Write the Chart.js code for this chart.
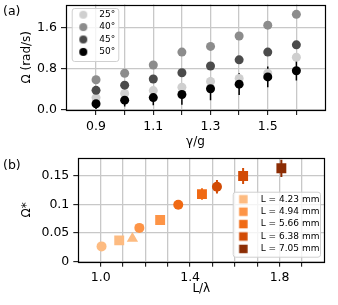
<!DOCTYPE html>
<html><head><meta charset="utf-8">
<script src="https://cdn.jsdelivr.net/npm/chart.js@4.4.0/dist/chart.umd.min.js"></script>
<style>
html,body{margin:0;padding:0;background:#fff;}
#wrap{position:relative;width:338px;height:305px;overflow:hidden;}
canvas{position:absolute;left:0;}
#c1{top:0;} #c2{top:151px;}
</style></head><body>
<div id="wrap"><canvas id="c1" width="338" height="151"></canvas><canvas id="c2" width="338" height="154"></canvas></div>
<script>
// ---------- Panel (a) data ----------
const gammaRatio = [0.9, 1.0, 1.1, 1.2, 1.3, 1.4, 1.5, 1.6];
const angleLabels = ['25°', '40°', '45°', '50°'];
const omega25 = [0.24, 0.32, 0.375, 0.44, 0.55, 0.61, 0.71, 1.02];
const omega40 = [0.585, 0.71, 0.87, 1.12, 1.23, 1.43, 1.64, 1.85];
const omega45 = [0.38, 0.48, 0.60, 0.72, 0.85, 0.97, 1.12, 1.26];
const omega50 = [0.12, 0.19, 0.24, 0.30, 0.41, 0.50, 0.64, 0.76];
const omega50Err = [0.10, 0.12, 0.15, 0.20, 0.22, 0.21, 0.20, 0.19];
const aXTicks = [0.9, 1.0, 1.1, 1.2, 1.3, 1.4, 1.5, 1.6];
const aXTickLabels = ['0.9', '', '1.1', '', '1.3', '', '1.5', ''];
const aYTicks = [0, 0.8, 1.6];
const aYTickLabels = ['0.0', '0.8', '1.6'];

// ---------- Panel (b) data ----------
const lengthLabels = ['L = 4.23 mm', 'L = 4.94 mm', 'L = 5.66 mm', 'L = 6.38 mm', 'L = 7.05 mm'];
const ratioL423 = [1.004, 1.083, 1.142];
const ratioL494 = [1.173, 1.266];
const ratioL566 = [1.347, 1.453];
const ratioL638 = [1.520, 1.637];
const ratioL705 = [1.808];
const omegaL423 = [0.0267, 0.0373, 0.0407];
const omegaL494 = [0.059, 0.0728];
const omegaL566 = [0.0995, 0.118];
const omegaL638 = [0.1307, 0.1495];
const omegaL705 = [0.163];
const errL566 = [0, 0.010];
const errL638 = [0.0117, 0.014];
const errL705 = [0.015];
const bXTicks = [1.0, 1.1, 1.2, 1.3, 1.4, 1.5, 1.6, 1.7, 1.8, 1.9];
const bXTickLabels = ['1.0', '', '', '', '1.4', '', '', '', '1.8', ''];
const bYTicks = [0, 0.05, 0.1, 0.15];
const bYTickLabels = ['0', '0.05', '0.1', '0.15'];

// ---------- styles ----------
const FONT = 'DejaVu Sans';
Chart.defaults.font.family = FONT;
Chart.defaults.color = '#000';
const grays = ['#cfcfcf', '#8c8c8c', '#4b4b4b', '#000000'];
const oranges = ['#fdbb81', '#fd9446', '#f06913', '#d24b05', '#8c2d04'];
const shapeSets = [['circle', 'rect', 'triangle'], ['circle', 'rect'], ['circle', 'rect'], ['circle', 'rect'], ['rect']];
const shapeRadius = { circle: 5, rect: 7, triangle: 6.5 };

function pts(xs, ys) { return xs.map((x, i) => ({ x: x, y: ys[i] })); }
function errSegments(xs, ys, es) {
  const out = [];
  xs.forEach((x, i) => {
    if (!es[i]) return;
    out.push({ x: x, y: ys[i] - es[i] }, { x: x, y: ys[i] + es[i] }, { x: x, y: null });
  });
  return out;
}
function markerImage(shape, color, size, shift) {
  const c = document.createElement('canvas');
  c.width = 40; c.height = 14;
  const g = c.getContext('2d');
  g.fillStyle = color;
  const cx = 20 + shift, cy = 7;
  if (shape === 'circle') { g.beginPath(); g.arc(cx, cy, size / 2, 0, Math.PI * 2); g.fill(); }
  else { g.fillRect(cx - size / 2, cy - size / 2, size, size); }
  return c;
}
function fixAxis(size, isX) {
  return function (s) {
    if (isX) s.height = size; else s.width = size;
    s.paddingTop = 0; s.paddingBottom = 0; s.paddingLeft = 0; s.paddingRight = 0;
  };
}
function setTicks(values) { return function (s) { s.ticks = values.map(v => ({ value: v })); }; }

const framePlugin = {
  id: 'frame',
  afterDatasetsDraw(chart) {
    const a = chart.chartArea, ctx = chart.ctx;
    ctx.save();
    ctx.strokeStyle = '#000'; ctx.lineWidth = 1.2;
    ctx.strokeRect(Math.round(a.left) + 0.5, Math.round(a.top) + 0.5,
      Math.round(a.right) - Math.round(a.left), Math.round(a.bottom) - Math.round(a.top));
    ctx.restore();
  }
};
const legendPlugin = {
  id: 'legendPlace',
  afterLayout(chart, args, o) {
    const lg = chart.legend; if (!lg) return;
    const w = lg.width, h = lg.height;
    lg.left = o.left; lg.top = o.top; lg.right = o.left + w; lg.bottom = o.top + h;
  },
  beforeDraw(chart) {
    const lg = chart.legend;
    if (lg && !lg.$patched) {
      const orig = lg.draw.bind(lg);
      lg.$orig = orig;
      lg.draw = function () { if (chart.$legendNow) orig(); };
      lg.$patched = true;
    }
  },
  afterDraw(chart, args, o) {
    const ctx = chart.ctx, b = o.box, lg = chart.legend;
    ctx.save();
    ctx.beginPath();
    if (ctx.roundRect) ctx.roundRect(b[0] + 0.5, b[1] + 0.5, b[2], b[3], 2.5); else ctx.rect(b[0] + 0.5, b[1] + 0.5, b[2], b[3]);
    ctx.fillStyle = 'rgba(255,255,255,0.8)'; ctx.fill();
    ctx.strokeStyle = '#d0d0d0'; ctx.lineWidth = 1; ctx.stroke();
    ctx.restore();
    chart.$legendNow = true;
    if (typeof lg._draw === 'function') { ctx.save(); lg._draw(); ctx.restore(); } else lg.$orig();
    chart.$legendNow = false;
  }
};

const gridStyle = { color: '#c8c8c8', lineWidth: 1.3, tickColor: '#000', tickLength: 5, tickWidth: 1 };
const tickFont = { size: 12.5 };
const titleFont = { size: 12 };

// ---------- Chart (a) ----------
const aLegendMarkers = grays.map(c => markerImage('circle', c, 8, -7));
const aSets = [omega25, omega40, omega45, omega50].map((ys, i) => ({
  label: angleLabels[i], data: pts(gammaRatio, ys), backgroundColor: grays[i],
  pointRadius: 4.5, pointHoverRadius: 4.5, borderWidth: 0, order: 4 - i
}));
aSets.push({
  label: '', isErr: true, data: errSegments(gammaRatio, omega50, omega50Err), showLine: true, spanGaps: false,
  borderColor: '#000', borderWidth: 1.5, pointRadius: 0, order: 10
});
new Chart(document.getElementById('c1'), {
  type: 'scatter',
  data: { datasets: aSets },
  options: {
    responsive: false, animation: false, events: [],
    layout: { padding: { left: 3, right: 13, top: 0, bottom: 0 } },
    plugins: {
      tooltip: { enabled: false },
      title: { display: true, text: '(a)', align: 'start', color: '#000', font: { size: 12.5, weight: 'normal' }, padding: { top: 3.8, bottom: -15.2 } },
      legend: {
        position: 'chartArea', align: 'start',
        labels: {
          usePointStyle: true, boxWidth: 9, boxHeight: 9, padding: 3.4, color: '#000', font: { size: 9 },
          filter: (item, data) => !data.datasets[item.datasetIndex].isErr,
          sort: (a, b) => a.datasetIndex - b.datasetIndex,
          generateLabels: (chart) => Chart.defaults.plugins.legend.labels.generateLabels(chart)
            .map(it => Object.assign(it, { pointStyle: aLegendMarkers[it.datasetIndex] || it.pointStyle }))
        }
      },
      legendPlace: { left: 82.4, top: 6.8, box: [71.7, 8, 46.6, 53] }
    },
    scales: {
      x: {
        type: 'linear', min: 0.795, max: 1.70,
        afterFit: fixAxis(41, true), afterBuildTicks: setTicks(aXTicks),
        ticks: { autoSkip: false, maxRotation: 0, padding: 4, font: tickFont, color: '#000', callback: (v, i) => aXTickLabels[i] },
        grid: gridStyle, border: { display: false },
        title: { display: true, text: 'γ/g', font: titleFont, color: '#000', padding: { top: 0, bottom: 1.8 } }
      },
      y: {
        type: 'linear', min: 0, max: 2.04,
        afterFit: fixAxis(63, false), afterBuildTicks: setTicks(aYTicks),
        ticks: { autoSkip: false, padding: 4, font: tickFont, color: '#000', callback: (v, i) => aYTickLabels[i] },
        grid: gridStyle, border: { display: false },
        title: { display: true, text: 'Ω (rad/s)', font: titleFont, color: '#000', padding: { top: 17, bottom: 0 } }
      }
    }
  },
  plugins: [framePlugin, legendPlugin]
});

// ---------- Chart (b) ----------
const bLegendMarkers = oranges.map(c => markerImage('rect', c, 8.5, -8.4));
const bXs = [ratioL423, ratioL494, ratioL566, ratioL638, ratioL705];
const bYs = [omegaL423, omegaL494, omegaL566, omegaL638, omegaL705];
const bSets = bXs.map((xs, i) => ({
  label: lengthLabels[i], data: pts(xs, bYs[i]), backgroundColor: oranges[i], borderWidth: 0,
  pointStyle: shapeSets[i], pointRadius: shapeSets[i].map(s => shapeRadius[s]),
  pointHoverRadius: shapeSets[i].map(s => shapeRadius[s]), order: 1
}));
[[ratioL566, omegaL566, errL566, 2], [ratioL638, omegaL638, errL638, 3], [ratioL705, omegaL705, errL705, 4]].forEach(e => {
  bSets.push({
    label: '', isErr: true, data: errSegments(e[0], e[1], e[2]), showLine: true, spanGaps: false,
    borderColor: oranges[e[3]], borderWidth: 2, pointRadius: 0, order: 5
  });
});
new Chart(document.getElementById('c2'), {
  type: 'scatter',
  data: { datasets: bSets },
  options: {
    responsive: false, animation: false, events: [],
    layout: { padding: { left: 3, right: 13.7, top: 0, bottom: 0 } },
    plugins: {
      tooltip: { enabled: false },
      title: { display: true, text: '(b)', align: 'start', color: '#000', font: { size: 12.5, weight: 'normal' }, padding: { top: 3.3, bottom: -15.4 } },
      legend: {
        position: 'chartArea', align: 'start',
        labels: {
          usePointStyle: true, boxWidth: 9, boxHeight: 9, padding: 3.4, color: '#000', font: { size: 9 },
          filter: (item, data) => !data.datasets[item.datasetIndex].isErr,
          sort: (a, b) => a.datasetIndex - b.datasetIndex,
          generateLabels: (chart) => Chart.defaults.plugins.legend.labels.generateLabels(chart)
            .map(it => Object.assign(it, { pointStyle: bLegendMarkers[it.datasetIndex] || it.pointStyle }))
        }
      },
      legendPlace: { left: 243.8, top: 40.4, box: [232.7, 40.7, 87.3, 65] }
    },
    scales: {
      x: {
        type: 'linear', min: 0.9, max: 2.0,
        afterFit: fixAxis(43.3, true), afterBuildTicks: setTicks(bXTicks),
        ticks: { autoSkip: false, maxRotation: 0, padding: 4, font: tickFont, color: '#000', callback: (v, i) => bXTickLabels[i] },
        grid: gridStyle, border: { display: false },
        title: { display: true, text: 'L/λ', font: titleFont, color: '#000', padding: { top: 0, bottom: 8.8 } }
      },
      y: {
        type: 'linear', min: 0, max: 0.181,
        afterFit: fixAxis(75.3, false), afterBuildTicks: setTicks(bYTicks),
        ticks: { autoSkip: false, padding: 4, font: tickFont, color: '#000', callback: (v, i) => bYTickLabels[i] },
        grid: gridStyle, border: { display: false },
        title: { display: true, text: 'Ω*', font: titleFont, color: '#000', padding: { top: 17, bottom: 0 } }
      }
    }
  },
  plugins: [framePlugin, legendPlugin]
});
</script>
</body></html>
